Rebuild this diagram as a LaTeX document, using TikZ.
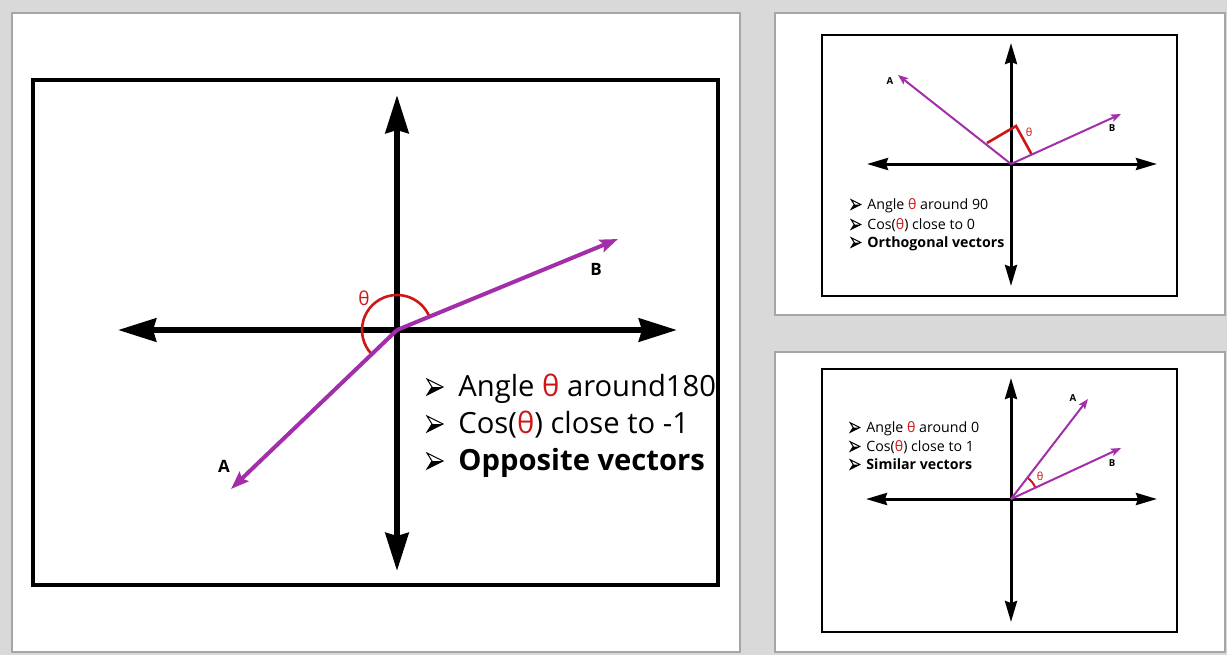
\documentclass[tikz,border=0pt]{standalone}
\usepackage{fontspec}
\setmainfont{Open Sans}
\usetikzlibrary{arrows.meta}

\definecolor{pagegray}{RGB}{217,217,217}
\definecolor{panelgray}{RGB}{166,166,166}
\definecolor{vecpurple}{RGB}{163,46,170}
\definecolor{angred}{RGB}{206,22,22}

% the red theta used in the three lists
\newcommand{\thr}{{\color{angred}θ}}

\tikzset{
  panel/.style={fill=white, draw=panelgray, line width=1pt},
  framebig/.style={draw=black, line width=2.2pt},
  framesmall/.style={draw=black, line width=1.4pt},
  axisbig/.style={line width=3pt, {Stealth[length=19pt,width=11.5pt,inset=1.5pt]}-{Stealth[length=19pt,width=11.5pt,inset=1.5pt]}},
  axissmall/.style={line width=1.5pt, {Stealth[length=10.5pt,width=6pt,inset=1pt]}-{Stealth[length=10.5pt,width=6pt,inset=1pt]}},
  vecbig/.style={vecpurple, line width=2pt, -{Stealth[length=9pt,width=6.5pt,inset=1.5pt]}},
  vecsmall/.style={vecpurple, line width=1pt, -{Stealth[length=5pt,width=3.8pt,inset=1pt]}},
  anglebig/.style={angred, line width=1.3pt},
  anglesmall/.style={angred, line width=1pt},
  lblbig/.style={font=\fontsize{8.5}{10}\selectfont\bfseries, inner sep=0pt},
  lblsmall/.style={font=\fontsize{4.8}{6}\selectfont\bfseries, inner sep=0pt},
  thbig/.style={angred, font=\fontsize{9.5}{11}\selectfont, inner sep=0pt},
  thsmall/.style={angred, font=\fontsize{5.5}{7}\selectfont, inner sep=0pt},
  txtbig/.style={font=\fontsize{14.6}{17}\selectfont, anchor=base west, inner sep=0pt},
  txtsmall/.style={font=\fontsize{7.1}{8}\selectfont, anchor=base west, inner sep=0pt},
  % list bullet: open arrowhead with a dark lower half, 16px at scale 1
  bularrow/.pic={
    \fill[black] (-3,0) -- (8,0) -- (-8,8) -- cycle;
    \draw[black, line width=0.5pt, line join=miter] (-8,-8) -- (8,0) -- (-8,8) -- (-3,0) -- cycle;
  }
}

\begin{document}
\begin{tikzpicture}[x=0.5pt,y=-0.5pt]
  % --- page and the three slide panels (pixel grid, y downwards)
  \fill[pagegray] (0,0) rectangle (1227,655);
  \useasboundingbox (0,0) rectangle (1227,655);
  \draw[panel] (12,13) rectangle (740,652);
  \draw[panel] (775,13) rectangle (1225,315);
  \draw[panel] (775,352) rectangle (1225,652);

  % --- big panel: theta about 180, opposite vectors
  \draw[framebig] (33,80) rectangle (718,585);
  \coordinate (O1) at (397,330);
  \coordinate (N1) at (397,95);  \coordinate (S1) at (397,571);
  \coordinate (W1) at (118,330); \coordinate (E1) at (677,330);
  \draw[axisbig] (W1) -- (E1);
  \draw[axisbig] (S1) -- (N1);
  \coordinate (A1) at (231,489);
  \coordinate (B1) at (618,239);
  \draw[anglebig] (O1) ++(-22:35) arc[start angle=-22, end angle=-221, radius=35];
  \draw[vecbig] (O1) -- (A1);
  \draw[vecbig] (O1) -- (B1);
  \node[lblbig] (lA1) at (224,466) {A};
  \node[lblbig] (lB1) at (596,269) {B};
  \node[thbig] (th1) at (364,298) {θ};
  \foreach \by in {387,424,461}
    \pic at (435,\by) {bularrow};
  \node[txtbig] (t1a) at (458,396) {Angle \thr{} around180};
  \node[txtbig] (t1b) at (458,433) {Cos(\thr) close to -1};
  \node[txtbig] (t1c) at (458,470) {\textbf{Opposite vectors}};

  % --- top right panel: theta about 90, orthogonal vectors
  \draw[framesmall] (822,35) rectangle (1177,296);
  \coordinate (O2) at (1011,164);
  \coordinate (N2) at (1011,43);  \coordinate (S2) at (1011,286);
  \coordinate (W2) at (867,164);  \coordinate (E2) at (1157,164);
  \draw[axissmall] (W2) -- (E2);
  \draw[axissmall] (S2) -- (N2);
  \coordinate (A2) at (898,75);
  \coordinate (B2) at (1121,114);
  \coordinate (pa2) at (987,143);
  \coordinate (pc2) at (1016,126);
  \coordinate (pb2) at (1032,155);
  \draw[anglesmall, line width=1.3pt] (pa2) -- (pc2) -- (pb2);
  \draw[vecsmall] (O2) -- (A2);
  \draw[vecsmall] (O2) -- (B2);
  \node[lblsmall] (lA2) at (890,81) {A};
  \node[lblsmall] (lB2) at (1112,128) {B};
  \node[thsmall] (th2) at (1029,132) {θ};
  \foreach \by in {204.5,224.5,242.5}
    \pic[scale=0.6] at (856,\by) {bularrow};
  \node[txtsmall] (t2a) at (867,209) {Angle \thr{} around 90};
  \node[txtsmall] (t2b) at (867,229) {Cos(\thr) close to 0};
  \node[txtsmall] (t2c) at (867,247) {\textbf{Orthogonal vectors}};

  % --- bottom right panel: theta about 0, similar vectors
  \draw[framesmall] (822,369) rectangle (1177,632);
  \coordinate (O3) at (1011,499);
  \coordinate (N3) at (1011,378); \coordinate (S3) at (1011,622);
  \coordinate (W3) at (866,499);  \coordinate (E3) at (1157,499);
  \draw[axissmall] (W3) -- (E3);
  \draw[axissmall] (S3) -- (N3);
  \coordinate (A3) at (1088,399);
  \coordinate (B3) at (1121,448);
  \draw[anglesmall] (O3) ++(-25:27) arc[start angle=-25, end angle=-53, radius=27];
  \draw[vecsmall] (O3) -- (A3);
  \draw[vecsmall] (O3) -- (B3);
  \node[lblsmall] (lA3) at (1073,398) {A};
  \node[lblsmall] (lB3) at (1112,463) {B};
  \node[thsmall] (th3) at (1040,476) {θ};
  \foreach \by in {427.5,446.5,464.5}
    \pic[scale=0.6] at (855,\by) {bularrow};
  \node[txtsmall] (t3a) at (866,432) {Angle \thr{} around 0};
  \node[txtsmall] (t3b) at (866,451) {Cos(\thr) close to 1};
  \node[txtsmall] (t3c) at (866,469) {\textbf{Similar vectors}};
\end{tikzpicture}
\end{document}
